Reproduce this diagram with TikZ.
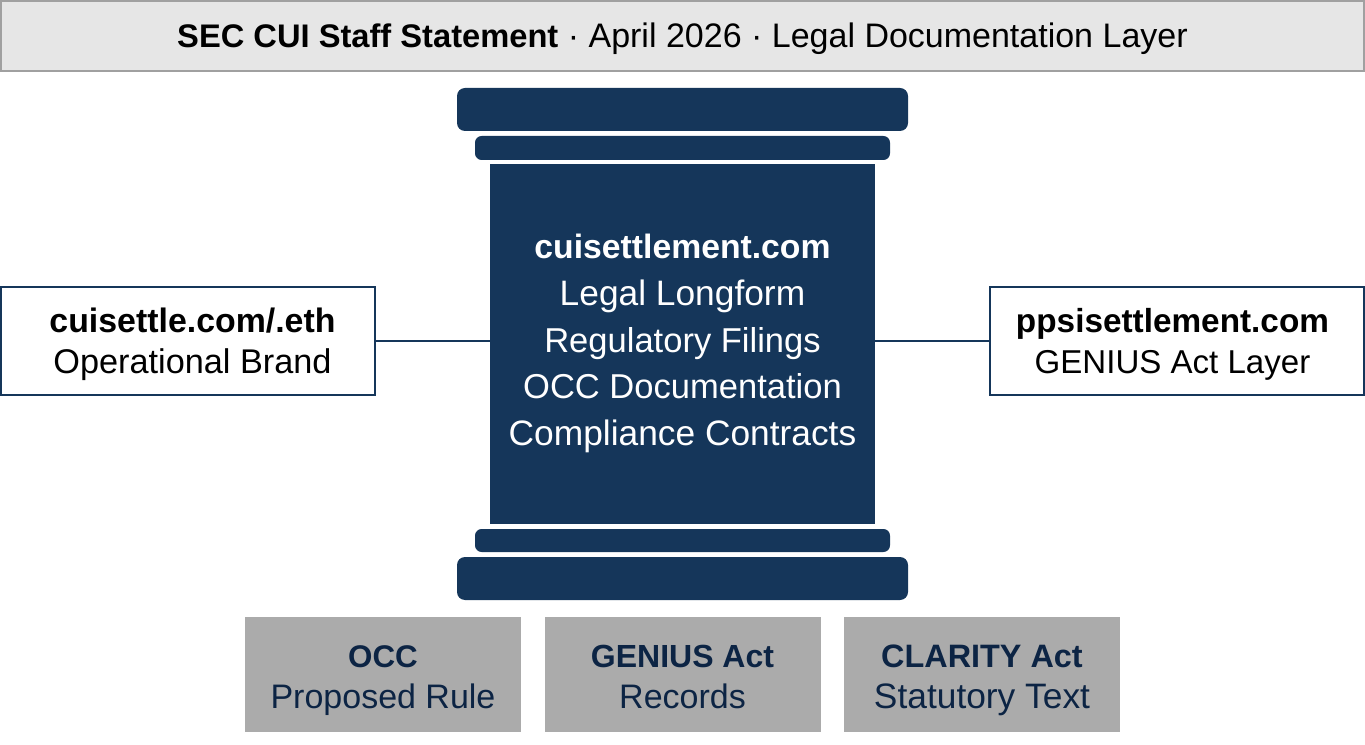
\documentclass[tikz,border=0pt]{standalone}
\usepackage{fontspec}
\setmainfont{Liberation Sans}
\definecolor{navy}{HTML}{15365A}
\definecolor{ink}{HTML}{0C2444}
\definecolor{titlefill}{HTML}{E6E6E6}
\definecolor{titleline}{HTML}{A0A0A0}
\definecolor{greyfill}{HTML}{ABABAB}
\newcommand{\sizedline}[2]{{\fontsize{#1}{#1}\selectfont #2\vphantom{Apg}}}
\newcommand{\boldline}[2]{{\fontsize{#1}{#1}\selectfont\bfseries #2\vphantom{Apg}}}
\tikzset{
  every node/.style={inner sep=0pt,outer sep=0pt,align=center},
  pillarpart/.style={fill=navy,draw=none,rounded corners=6pt},
  shaftbox/.style={fill=navy,draw=none,minimum width=288.75pt,minimum height=270pt},
  shafttext/.style={text=white,font=\fontsize{25.5}{35.2}\selectfont},
  titlebox/.style={fill=titlefill,draw=titleline,line width=1.5pt,minimum width=1022pt,minimum height=53pt},
  titletext/.style={font=\fontsize{25.5}{30}\selectfont},
  sidebox/.style={fill=white,draw=navy,line width=1pt,minimum width=280.5pt,minimum height=81pt},
  sidetext/.style={text=black,font=\fontsize{25.5}{31}\selectfont},
  footbox/.style={fill=greyfill,draw=none,minimum width=207pt,minimum height=86.25pt},
  foottext/.style={text=ink,font=\fontsize{25.5}{30.5}\selectfont},
  link/.style={draw=navy,line width=1pt}
}
\begin{document}
\begin{tikzpicture}[x=0.75pt,y=-0.75pt]
\useasboundingbox (0,0) rectangle (1365,745);
\node[titlebox] (title) at (682.5,36) {};
\node[titletext] (titlelabel) at (682.5,39) {\boldline{24.5}{SEC CUI Staff Statement}\sizedline{25.5}{ · April 2026 · Legal Documentation Layer}};
\node[pillarpart,minimum width=338.25pt,minimum height=32.25pt] (captop) at (682.5,109.5) {};
\node[pillarpart,minimum width=311.25pt,minimum height=18pt,rounded corners=5pt] (capmid) at (682.5,148) {};
\node[shaftbox] (shaft) at (682.5,344) {};
\node[shafttext] (shaftlabel) at (682.5,343.5) {\boldline{25.3}{cuisettlement.com}\\\sizedline{26.5}{Legal Longform}\\\sizedline{25.9}{Regulatory Filings}\\\sizedline{25.9}{OCC Documentation}\\\sizedline{26.5}{Compliance Contracts}};
\node[pillarpart,minimum width=311.25pt,minimum height=17.25pt,rounded corners=5pt] (basemid) at (682.5,540.5) {};
\node[pillarpart,minimum width=338.25pt,minimum height=32.25pt] (basebot) at (682.5,578.5) {};
\node[sidebox] (left) at (188,341) {};
\node[sidetext] (leftlabel) at (192.5,344.5) {\boldline{25.4}{cuisettle.com/.eth}\\\sizedline{25.7}{Operational Brand}};
\node[sidebox] (right) at (1177,341) {};
\node[sidetext] (rightlabel) at (1172.5,344.5) {\boldline{25}{ppsisettlement.com}\\\sizedline{24.8}{GENIUS Act Layer}};
\draw[link] (left.east) -- (left.east -| shaft.west);
\draw[link] (right.west -| shaft.east) -- (right.west);
\node[footbox] (occ) at (383,674.5) {};
\node[foottext] (occlabel) at (383,680.5) {\boldline{23.5}{OCC}\\\sizedline{25.5}{Proposed Rule}};
\node[footbox] (genius) at (682.5,674.5) {};
\node[foottext] (geniuslabel) at (682.5,680.5) {\boldline{24}{GENIUS Act}\\\sizedline{25.5}{Records}};
\node[footbox] (clarity) at (982,674.5) {};
\node[foottext] (claritylabel) at (982,680.5) {\boldline{24.3}{CLARITY Act}\\\sizedline{26.5}{Statutory Text}};
\end{tikzpicture}
\end{document}
